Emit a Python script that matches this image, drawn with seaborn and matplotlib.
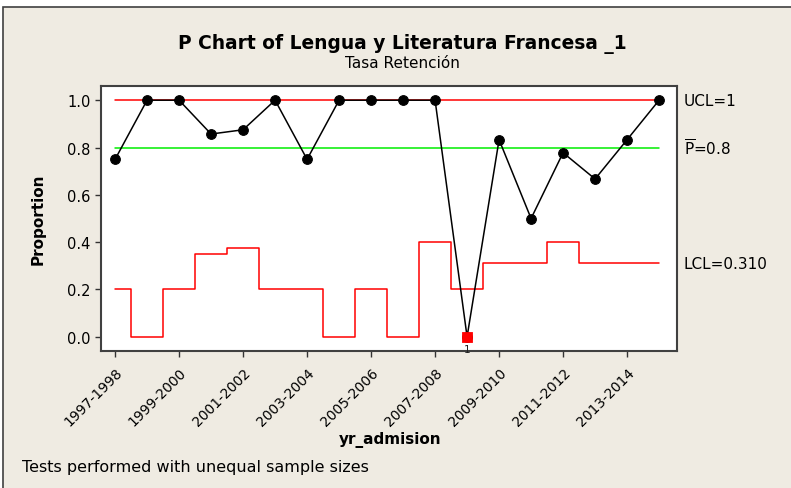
import numpy as np
import pandas as pd
import matplotlib
matplotlib.use("Agg")
import matplotlib.pyplot as plt
import seaborn as sns
from matplotlib.patches import Rectangle

years = ["1997-1998", "1998-1999", "1999-2000", "2000-2001", "2001-2002", "2002-2003",
         "2003-2004", "2004-2005", "2005-2006", "2006-2007", "2007-2008", "2008-2009",
         "2009-2010", "2010-2011", "2011-2012", "2012-2013", "2013-2014", "2014-2015"]
proportion = [0.75, 1.0, 1.0, 0.857, 0.875, 1.0, 0.75, 1.0, 1.0, 1.0, 1.0, 0.0,
              0.833, 0.5, 0.778, 0.667, 0.833, 1.0]
lcl = [0.2, 0.0, 0.2, 0.35, 0.375, 0.2, 0.2, 0.0, 0.2, 0.0, 0.4, 0.2,
       0.31, 0.31, 0.4, 0.31, 0.31, 0.31]
ucl = [1.0] * len(years)
center = [0.8] * len(years)
out_of_control = [11]
y_ticks = [0.0, 0.2, 0.4, 0.6, 0.8, 1.0]

sns.set_theme(style="ticks")
plt.rcParams["font.family"] = ["DejaVu Sans"]
plt.rcParams["mathtext.fontset"] = "dejavusans"
plt.rcParams["text.color"] = "black"
plt.rcParams["axes.labelcolor"] = "black"

df = pd.DataFrame({"idx": np.arange(len(years)), "year": years,
                   "p": proportion, "lcl": lcl, "ucl": ucl, "center": center})

fig = plt.figure(figsize=(7.91, 4.89), dpi=100)
fig.patch.set_facecolor("white")
# minitab-like beige panel
fig.patches.append(Rectangle((3 / 791, -0.01), 1.0, (489 - 8) / 489 + 0.01,
                             transform=fig.transFigure, facecolor="#EFEBE2",
                             edgecolor="#404040", linewidth=1.2, zorder=-10))

ax = fig.add_axes([101 / 791, 1 - 352 / 489, 576 / 791, 265 / 489])
ax.set_facecolor("white")

sns.lineplot(data=df, x="idx", y="ucl", color="red", linewidth=1.1, ax=ax)
sns.lineplot(data=df, x="idx", y="center", color="#00EE00", linewidth=1.1, ax=ax)
sns.lineplot(data=df, x="idx", y="lcl", color="red", linewidth=1.1,
             drawstyle="steps-mid", ax=ax)
sns.lineplot(data=df, x="idx", y="p", color="black", linewidth=1.1, marker="o",
             markersize=7, markeredgecolor="black", ax=ax)

bad = df.iloc[out_of_control]
sns.scatterplot(data=bad, x="idx", y="p", color="red", marker="s", s=55,
                edgecolor="red", zorder=5, ax=ax)
for _, r in bad.iterrows():
    ax.annotate("1", (r["idx"], r["p"]), xytext=(0, -5), textcoords="offset points",
                ha="center", va="top", fontsize=7.5, color="#222222")

ax.set_xlim(-0.44, 17.56)
ax.set_ylim(-0.06, 1.06)
ax.set_yticks(y_ticks)
ax.set_yticklabels([f"{v:.1f}" for v in y_ticks])
ax.set_xticks(df["idx"][::2])
ax.set_xticklabels(df["year"][::2], rotation=45, ha="right", rotation_mode="anchor")
ax.tick_params(axis="both", labelsize=10.5, length=4, width=1, color="#333333",
               labelcolor="black", direction="out")
ax.tick_params(axis="x", labelsize=10, pad=6)

for s in ax.spines.values():
    s.set_color("#404040")
    s.set_linewidth(1.5)

ax.set_xlabel("yr_admision", fontsize=11, fontweight="bold")
ax.xaxis.set_label_coords(0.502, -0.30)
ax.set_ylabel("Proportion", fontsize=11, fontweight="bold")
ax.yaxis.set_label_coords(-0.097, 0.5)

fig.text(402 / 791, 1 - 44 / 489, "P Chart of Lengua y Literatura Francesa _1",
         ha="center", va="center", fontsize=13.4, fontweight="bold")
fig.text(402 / 791, 1 - 63 / 489, "Tasa Retención", ha="center", va="center",
         fontsize=11)

ax.annotate("UCL=1", (1.0, ucl[-1]), xycoords=("axes fraction", "data"),
            xytext=(5, 0), textcoords="offset points", va="center", fontsize=11)
ax.annotate(r"$\overline{\mathrm{P}}$=0.8", (1.0, center[-1]),
            xycoords=("axes fraction", "data"), xytext=(5, 0),
            textcoords="offset points", va="center", fontsize=11)
ax.annotate("LCL=0.310", (1.0, lcl[-1]), xycoords=("axes fraction", "data"),
            xytext=(5, 0), textcoords="offset points", va="center", fontsize=11)

fig.text(22 / 791, 1 - 468 / 489, "Tests performed with unequal sample sizes",
         ha="left", va="center", fontsize=11.5)

fig.savefig("out.png", dpi=100, facecolor=fig.get_facecolor())
